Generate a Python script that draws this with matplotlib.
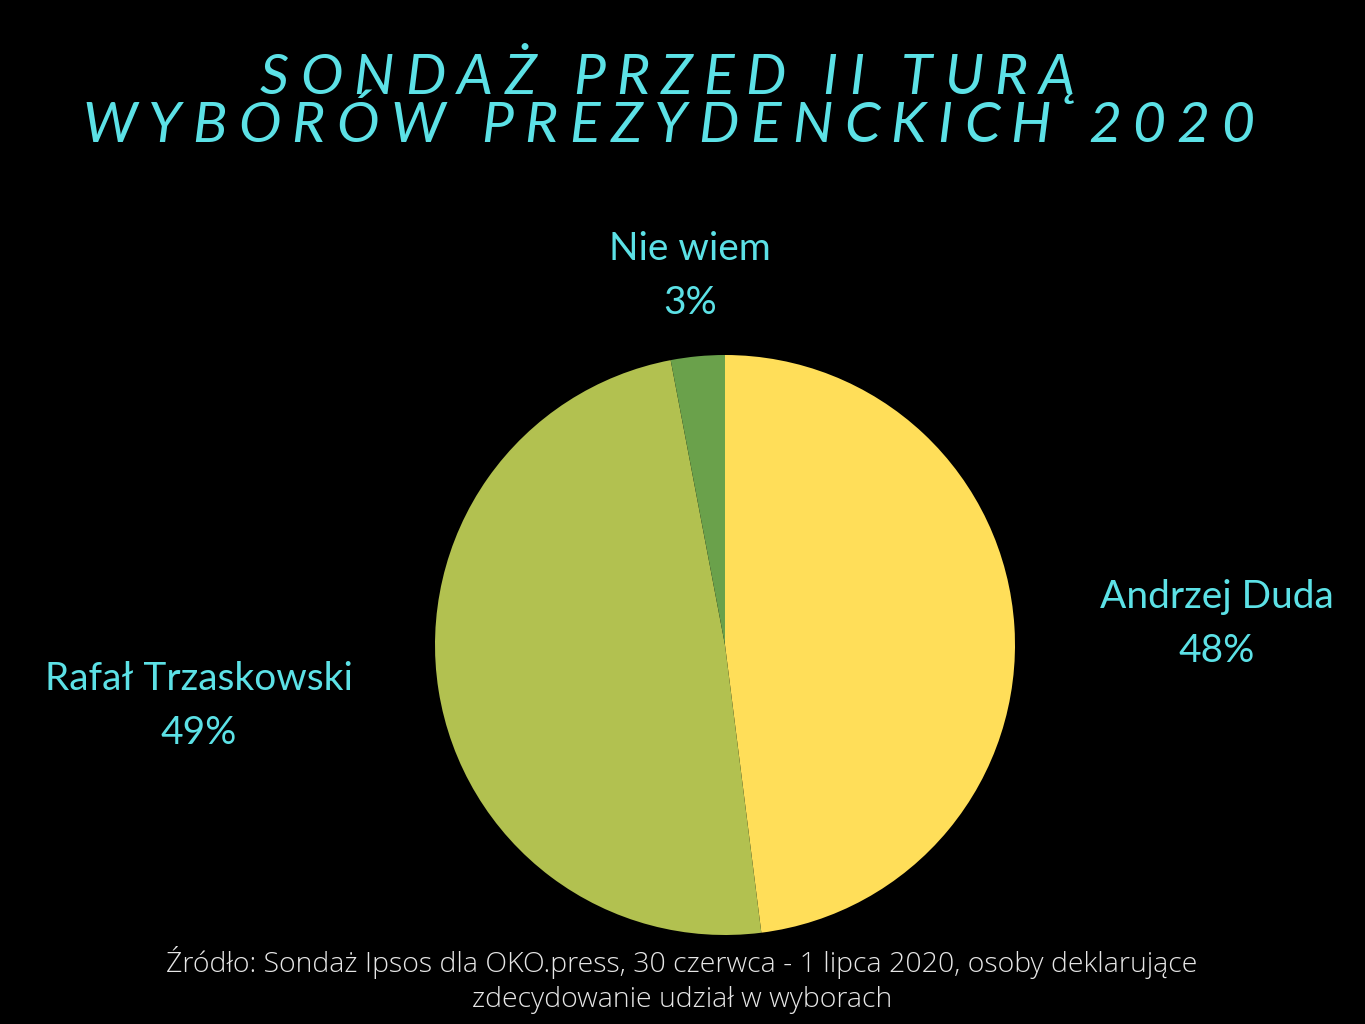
import matplotlib
matplotlib.use("Agg")
import matplotlib.pyplot as plt

# dane z sondażu
kandydaci = ["Andrzej Duda", "Rafał Trzaskowski", "Nie wiem"]
wyniki = [48, 49, 3]
kolory = ["#FFDE59", "#B2C150", "#6AA14B"]
tytul = ["SONDAŻ PRZED II TURĄ", "WYBORÓW PREZYDENCKICH 2020"]
zrodlo = ("Źródło: Sondaż Ipsos dla OKO.press, 30 czerwca - 1 lipca 2020, "
          "osoby deklarujące\nzdecydowanie udział w wyborach")

CYAN = "#5CE1E6"
W, H = 1365, 1024

fig = plt.figure(figsize=(W / 100, H / 100), dpi=100, facecolor="black")

# pie: center (725, 645), r = 290 px
r = 290
ax = fig.add_axes([(725 - r) / W, 1 - (645 + r) / H, 2 * r / W, 2 * r / H])
ax.set_facecolor("black")
ax.pie(wyniki, colors=kolory, startangle=90, counterclock=False,
       radius=1, wedgeprops=dict(linewidth=0))
ax.set_xlim(-1, 1)
ax.set_ylim(-1, 1)
ax.set_aspect("equal")
ax.axis("off")

# etykiety
pozycje = {"Andrzej Duda": (1217, 624), "Rafał Trzaskowski": (199, 706),
           "Nie wiem": (690, 276)}
for k, v in zip(kandydaci, wyniki):
    x, y = pozycje[k]
    fig.text(x / W, 1 - y / H, f"{k}\n{v}%", color=CYAN, fontsize=28,
             family="Lato", ha="center", va="center", linespacing=1.63)


def tracked_text(fig, s, xc, yc, size, spacing):
    # tekst z rozstrzeleniem liter, wyśrodkowany w (xc, yc) px
    renderer = fig.canvas.get_renderer()
    parts = []
    for ch in s:
        t = fig.text(0, 0, ch, color=CYAN, fontsize=size, family="Lato",
                     style="italic", ha="left", va="center")
        w = t.get_window_extent(renderer).width
        if ch == " ":
            w = size * 0.25 * 100 / 72
        parts.append((t, w))
    total = sum(w for _, w in parts) + spacing * (len(parts) - 1)
    x = xc - total / 2
    for t, w in parts:
        t.set_position((x / W, 1 - yc / H))
        x += w + spacing


tracked_text(fig, tytul[0], 667, 79, 41, 11.3)
tracked_text(fig, tytul[1], 668, 126, 41, 11.3)

fig.text(682 / W, 1 - 980 / H, zrodlo, color="#e6e6e6", fontsize=20.5,
         family="Open Sans", weight="light", ha="center", va="center",
         linespacing=1.35)

fig.savefig("out.png", dpi=100, facecolor="black")
